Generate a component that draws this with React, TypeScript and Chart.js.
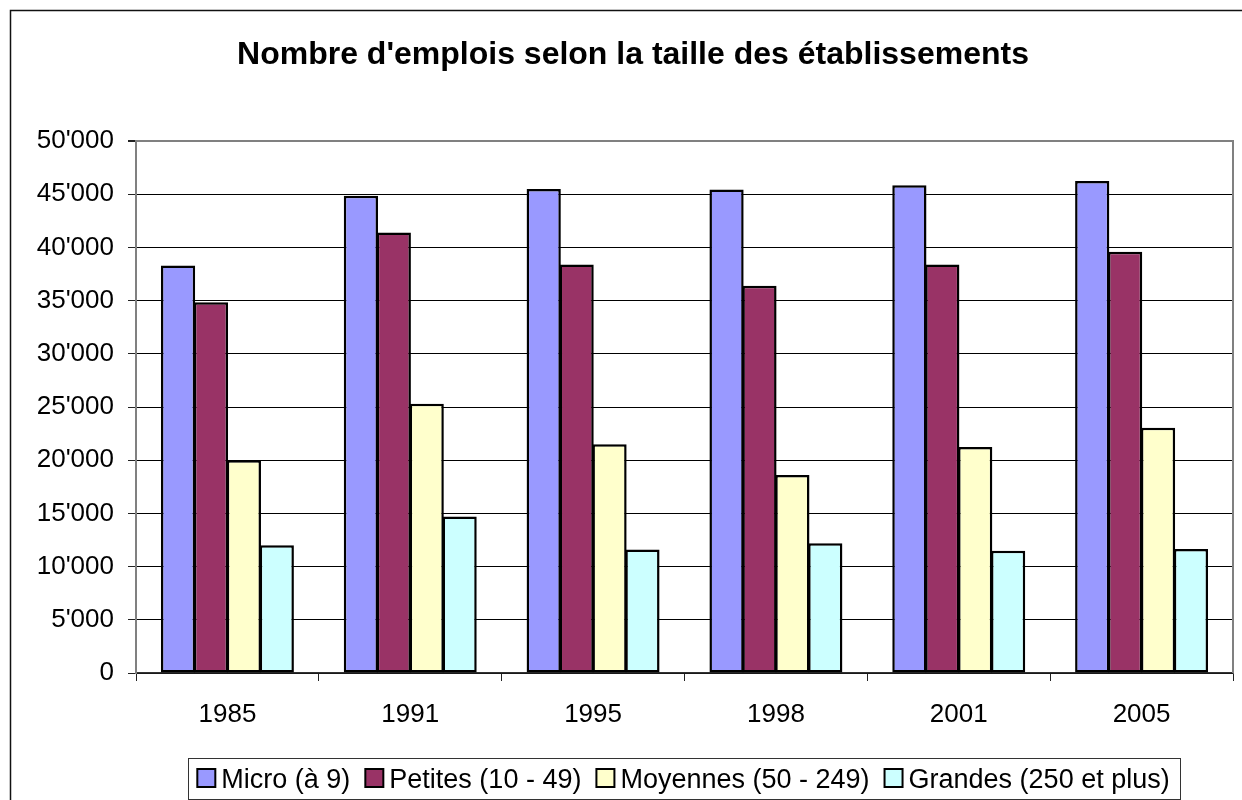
import React, { useEffect, useRef } from "react";
import { Chart, registerables } from "chart.js";

Chart.register(...registerables);

const TITLE = "Nombre d'emplois selon la taille des établissements";
const YEARS = ["1985", "1991", "1995", "1998", "2001", "2005"];
const SERIES_LABELS = ["Micro (à 9)", "Petites (10 - 49)", "Moyennes (50 - 249)", "Grandes (250 et plus)"];
const MICRO = [38300, 44850, 45500, 45450, 45850, 46250];
const PETITES = [34850, 41400, 38400, 36400, 38400, 39600];
const MOYENNES = [20000, 25300, 21500, 18600, 21250, 23050];
const GRANDES = [12000, 14700, 11600, 12200, 11500, 11650];
const SERIES_COLORS = ["#9999FF", "#993366", "#FFFFCC", "#CCFFFF"];
const Y_MIN = 0;
const Y_MAX = 50000;
const Y_STEP = 5000;

const CANVAS_W = 1265;
const CANVAS_H = 800;
const FONT = "'Liberation Sans', Arial, sans-serif";

const fmt = (v: number) => String(Math.round(v)).replace(/\B(?=(\d{3})+(?!\d))/g, "'");

const decor = {
  id: "decor",
  beforeDraw(chart: any) {
    const ctx = chart.ctx;
    ctx.save();
    ctx.fillStyle = "#ffffff";
    ctx.fillRect(0, 0, chart.width, chart.height);
    ctx.restore();
  },
  afterDraw(chart: any) {
    const ctx = chart.ctx;
    const a = chart.chartArea;
    ctx.save();
    // outer border
    ctx.strokeStyle = "#111";
    ctx.lineWidth = 1.5;
    ctx.strokeRect(10.5, 10.5, 1246, 800);
    // plot area right border
    ctx.strokeStyle = "#808080";
    ctx.lineWidth = 2;
    ctx.beginPath();
    ctx.moveTo(a.right, a.top - 1);
    ctx.lineTo(a.right, a.bottom);
    ctx.stroke();
    // title
    ctx.fillStyle = "#000";
    ctx.font = "bold 32px " + FONT;
    ctx.textAlign = "center";
    ctx.textBaseline = "alphabetic";
    ctx.fillText(TITLE, 633, 64);
    // legend
    ctx.font = "27px " + FONT;
    ctx.textAlign = "left";
    const ds = chart.data.datasets;
    const marker = 18;
    const gapMT = 6;
    const gapItems = 15;
    const widths = ds.map((d: any) => marker + gapMT + ctx.measureText(d.label).width);
    const total = widths.reduce((s: number, w: number) => s + w, 0) + gapItems * (ds.length - 1);
    const cx = (a.left + a.right) / 2;
    const padL = 9;
    const padR = 11;
    let x = cx - total / 2 + (padL - padR) / 2;
    const boxLeft = x - padL;
    const boxTop = 758;
    const boxH = 41;
    ctx.strokeStyle = "#333";
    ctx.lineWidth = 1;
    ctx.strokeRect(Math.round(boxLeft) + 0.5, boxTop + 0.5, Math.round(total + padL + padR), boxH);
    ds.forEach((d: any, i: number) => {
      ctx.fillStyle = d.backgroundColor;
      ctx.fillRect(x, 769, marker, marker);
      ctx.strokeStyle = "#000";
      ctx.lineWidth = 2;
      ctx.strokeRect(x, 769, marker, marker);
      ctx.fillStyle = "#000";
      ctx.fillText(d.label, x + marker + gapMT, 788);
      x += widths[i] + gapItems;
    });
    ctx.restore();
  },
};

export default function App() {
  const ref = useRef<HTMLCanvasElement | null>(null);
  useEffect(() => {
    if (!ref.current) return;
    const seriesValues = [MICRO, PETITES, MOYENNES, GRANDES];
    const chart = new Chart(ref.current, {
      type: "bar",
      data: {
        labels: YEARS,
        datasets: SERIES_LABELS.map((label, i) => ({
          label,
          data: seriesValues[i],
          backgroundColor: SERIES_COLORS[i],
          borderColor: "#000",
          borderWidth: 2.5,
          borderSkipped: false,
          barPercentage: 1.04,
          categoryPercentage: 0.72,
        })),
      },
      options: {
        responsive: false,
        animation: false,
        devicePixelRatio: 1,
        layout: { padding: { top: 141, left: 0, right: CANVAS_W - 1233, bottom: 0 } },
        plugins: {
          legend: { display: false },
          title: { display: false },
          tooltip: { enabled: false },
        },
        scales: {
          x: {
            afterFit: (s: any) => {
              s.height = 127;
            },
            grid: {
              display: true,
              drawOnChartArea: false,
              drawTicks: true,
              tickLength: 8,
              color: "#222",
              offset: true,
            },
            border: { display: true, color: "#333", width: 1.5 },
            ticks: {
              color: "#000",
              font: { family: FONT, size: 26 },
              padding: 18,
              maxRotation: 0,
            },
          },
          y: {
            min: Y_MIN,
            max: Y_MAX,
            afterFit: (s: any) => {
              s.width = 136;
            },
            grid: {
              color: (c: any) => (c.tick && c.tick.value === Y_MAX ? "#808080" : "#000"),
              lineWidth: (c: any) => (c.tick && c.tick.value === Y_MAX ? 2 : 1),
              tickColor: "#222",
              tickLength: 8,
              drawTicks: true,
            },
            border: { display: true, color: "#808080", width: 2 },
            ticks: {
              stepSize: Y_STEP,
              color: "#000",
              font: { family: FONT, size: 26 },
              padding: 14,
              callback: (v: any) => fmt(Number(v)),
            },
          },
        },
      },
      plugins: [decor],
    });
    return () => chart.destroy();
  }, []);
  return (
    <div style={{ position: "fixed", left: 0, top: 0, width: 1242, height: 800, overflow: "hidden", background: "#fff" }}>
      <canvas ref={ref} width={CANVAS_W} height={CANVAS_H} style={{ display: "block", width: CANVAS_W, height: CANVAS_H }} />
    </div>
  );
}
